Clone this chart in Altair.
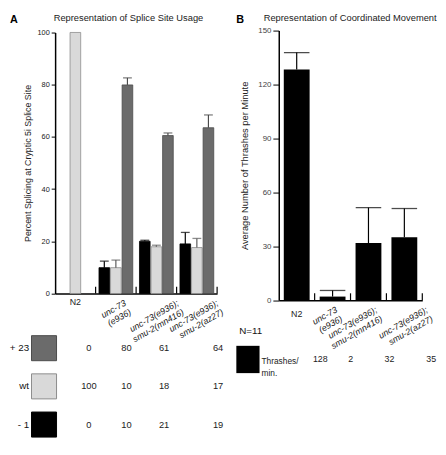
import altair as alt
import pandas as pd

F = "Liberation Sans"

# ---------------- data ----------------
groups = ["N2", "unc-73|(e936)", "unc-73(e936);|smu-2(mn416)", "unc-73(e936);|smu-2(az27)"]
series = ["- 1", "wt", "+ 23"]

minus1 = [0, 9.9, 20.0, 19.0]
minus1_err = [None, 12.4, 20.4, 23.4]
wt = [100, 9.9, 17.9, 17.6]
wt_err = [None, 12.8, 18.5, 21.1]
plus23 = [0, 79.9, 60.5, 63.5]
plus23_err = [None, 82.6, 61.5, 68.4]

table_minus1 = ["0", "10", "21", "19"]
table_wt = ["100", "10", "18", "17"]
table_plus23 = ["0", "80", "61", "64"]

thrashes = [128.3, 2.0, 31.8, 35.0]
thrashes_err = [137.8, 5.4, 51.5, 51.0]
table_thrashes = ["128", "2", "32", "35"]

title_a = "Representation of Splice Site Usage"
title_b = "Representation of Coordinated Movement"

fill_range = ["#000000", "#d9d9d9", "#6b6b6b"]
stroke_range = ["#000000", "#8c8c8c", "#4a4a4a"]
err_range = ["#000000", "#5c5c5c", "#4a4a4a"]

# ---------------- geometry (pixels inside the plot frame) ----------------
W, H = 374, 274.6          # whole frame: panel A + gap + panel B
A_X = [0, 165]             # panel A x range
A_Y = [267.8, 1.9]         # panel A y range (bottom, top)
B_X = [227.8, 374]         # panel B x range
B_Y = [274.6, 0]           # panel B y range

G2, G3 = groups[1], groups[2]


def label_offsets(o2, o3, o4):
    return {"condition": [{"test": f"datum.value == '{G2}'", "value": o2},
                          {"test": f"datum.value == '{G3}'", "value": o3}],
            "value": o4}


def x_axis(offset, offsets):
    return alt.Axis(
        orient="bottom", offset=offset,
        title=None, ticks=False, domainColor="#000", domainWidth=1.5,
        labelExpr="datum.value == 'N2' ? '' : split(datum.value, '|')",
        labelAngle=330, labelAlign="right", labelBaseline="top", labelFont=F,
        labelFontSize=9, labelFontStyle="italic", labelColor="#222",
        labelLineHeight=10.5, labelPadding=5, labelOverlap=False, labelBound=False,
        labelOffset=offsets,
    )


# ---------------- panel A ----------------
rowsA = []
for i, g in enumerate(groups):
    for s, vals, errs in zip(series, [minus1, wt, plus23], [minus1_err, wt_err, plus23_err]):
        rowsA.append({"group": g, "series": s, "value": vals[i], "upper": errs[i]})
dfA = pd.DataFrame(rowsA)
barsA_df = dfA[dfA["value"] > 0]
errA_df = dfA[dfA["upper"].notna()]

axisXA = x_axis(A_Y[0] - H, label_offsets(7.5, 20, 19))
scXA = alt.Scale(domain=groups, range=A_X, paddingInner=0, paddingOuter=0)
axisYA = alt.Axis(
    orient="left",
    title="Percent Splicing at Cryptic 5i Splice Site", values=[0, 20, 40, 60, 80, 100],
    grid=False, tickSize=4, tickColor="#000", tickWidth=1, domainColor="#000", domainWidth=1.5,
    labelFont=F, labelFontSize=7.5, labelColor="#222", labelPadding=2,
    titleFont=F, titleFontSize=9, titleFontWeight="normal", titleColor="#222", titlePadding=5,
)
scYA = alt.Scale(domain=[0, 100], range=A_Y, nice=False)
scOffA = alt.Scale(domain=series, paddingInner=0.08, paddingOuter=0.29)


def xA():
    return alt.X("group:N", sort=groups, scale=scXA, axis=axisXA)


def offA():
    return alt.XOffset("series:N", sort=series, scale=scOffA)


fill_enc = alt.Fill("series:N", scale=alt.Scale(domain=series, range=fill_range), legend=None)
stroke_enc = alt.Stroke("series:N", scale=alt.Scale(domain=series, range=stroke_range), legend=None)
err_enc = alt.Color("series:N", scale=alt.Scale(domain=series, range=err_range), legend=None)

barsA = alt.Chart(barsA_df).mark_bar(strokeWidth=0.8).encode(
    x=xA(), xOffset=offA(),
    y=alt.Y("value:Q", scale=scYA, axis=axisYA, stack=None),
    fill=fill_enc, stroke=stroke_enc,
)
errA = alt.Chart(errA_df).mark_rule(strokeWidth=1.2).encode(
    x=xA(), xOffset=offA(),
    y=alt.Y("value:Q", scale=scYA, axis=axisYA), y2="upper:Q", color=err_enc,
)
capA = alt.Chart(errA_df).mark_tick(size=9, thickness=1.3).encode(
    x=xA(), xOffset=offA(),
    y=alt.Y("upper:Q", scale=scYA, axis=axisYA), color=err_enc,
)
ticksA = alt.Chart(pd.DataFrame({"group": groups})).mark_rule(color="#000", strokeWidth=1.2).encode(
    x=alt.X("group:N", sort=groups, scale=scXA, axis=axisXA, bandPosition=1),
    y=alt.value(A_Y[0]), y2=alt.value(A_Y[0] - 7),
)
n2A = alt.Chart(pd.DataFrame({"group": ["N2"]})).mark_text(
    font=F, fontSize=9, color="#222", baseline="middle"
).encode(x=xA(), y=alt.value(A_Y[0] + 8.7), text="group:N")

mainA = alt.layer(barsA, errA, capA, ticksA, n2A)

tabA_rows = []
for s, vals in zip(series, [table_minus1, table_wt, table_plus23]):
    tabA_rows.append({"series": s, "col": -2, "text": s})
    tabA_rows.append({"series": s, "col": -1, "text": ""})
    for j, v in enumerate(vals):
        tabA_rows.append({"series": s, "col": j, "text": v})
tabA = pd.DataFrame(tabA_rows)

xTA = alt.X("col:Q", scale=alt.Scale(domain=[-2, -1, 0, 1, 2, 3],
                                     range=[-26.5, -11.3, 34.4, 72.7, 111.0, 166.0],
                                     zero=False, nice=False), axis=None)
yTA = alt.Y("series:N", scale=alt.Scale(type="point", domain=["+ 23", "wt", "- 1"],
                                        range=[323.5, 401.3], padding=0), axis=None)

valsA = alt.Chart(tabA).transform_filter("datum.col >= 0").mark_text(
    font=F, fontSize=9.5, color="#222", align="center", baseline="middle"
).encode(x=xTA, y=yTA, text="text:N")
labsA = alt.Chart(tabA).transform_filter("datum.col == -2").mark_text(
    font=F, fontSize=10, color="#111", align="right", baseline="middle"
).encode(x=xTA, y=yTA, text="text:N")
sqA = alt.Chart(tabA).transform_filter("datum.col == -1").mark_square(
    size=650, strokeWidth=1, opacity=1
).encode(x=xTA, y=yTA, fill=fill_enc, stroke=stroke_enc)
letterA = alt.Chart(pd.DataFrame({"t": ["A"]})).mark_text(
    font=F, fontSize=11, fontWeight="bold", align="left", baseline="alphabetic", color="#000"
).encode(x=alt.value(-46), y=alt.value(-8), text="t:N")
titleA = alt.Chart(pd.DataFrame({"t": [title_a]})).mark_text(
    font=F, fontSize=9.5, align="center", baseline="alphabetic", color="#222"
).encode(x=alt.value(74.7), y=alt.value(-10), text="t:N")

tableA = alt.layer(valsA, labsA, sqA, letterA, titleA)

# ---------------- panel B ----------------
dfB = pd.DataFrame({"group": groups, "value": thrashes, "upper": thrashes_err})

scXB = alt.Scale(domain=groups, range=B_X, paddingInner=0, paddingOuter=0)
axisXB = x_axis(0, label_offsets(2, 6, 21))
axisYB = alt.Axis(
    orient="left", offset=-B_X[0],
    title="Average Number of Thrashes per Minute", values=[0, 30, 60, 90, 120, 150],
    grid=False, tickSize=6, tickColor="#000", tickWidth=1, domainColor="#000", domainWidth=1.5,
    labelFont=F, labelFontSize=8, labelColor="#444", labelPadding=2,
    titleFont=F, titleFontSize=9.5, titleFontWeight="normal", titleColor="#222", titlePadding=8,
)
scYB = alt.Scale(domain=[0, 150], range=B_Y, nice=False)


def xB():
    return alt.X("group:N", sort=groups, scale=scXB, axis=axisXB)


barsB = alt.Chart(dfB).mark_bar(width=alt.RelativeBandSize(0.72), color="#000").encode(
    x=xB(), y=alt.Y("value:Q", scale=scYB, axis=axisYB),
)
errB = alt.Chart(dfB).mark_rule(color="#000", strokeWidth=1.2).encode(
    x=xB(), y=alt.Y("value:Q", scale=scYB, axis=axisYB), y2="upper:Q",
)
capB = alt.Chart(dfB).mark_tick(size=26, thickness=1.3, color="#000").encode(
    x=xB(), y=alt.Y("upper:Q", scale=scYB, axis=axisYB),
)
ticksB = alt.Chart(pd.DataFrame({"group": groups})).mark_rule(color="#000", strokeWidth=1.2).encode(
    x=alt.X("group:N", sort=groups, scale=scXB, axis=axisXB, bandPosition=1),
    y=alt.value(B_Y[0]), y2=alt.value(B_Y[0] - 7),
)
n2B = alt.Chart(pd.DataFrame({"group": ["N2"]})).mark_text(
    font=F, fontSize=9, color="#222", baseline="middle"
).encode(x=xB(), y=alt.value(B_Y[0] + 14), text="group:N")

mainB = alt.layer(barsB, errB, capB, ticksB, n2B)

tabB_rows = [{"row": "n", "col": -3, "text": "N=11"},
             {"row": "t", "col": -2, "text": ""},
             {"row": "t", "col": -1, "text": "Thrashes/|min."}]
for j, v in enumerate(table_thrashes):
    tabB_rows.append({"row": "t", "col": j, "text": v})
tabB = pd.DataFrame(tabB_rows)

xTB = alt.X("col:Q", scale=alt.Scale(domain=[-3, -2, -1, 0, 1, 2, 3],
                                     range=[187.6, 196.4, 210.2, 270.1, 301.2, 340.5, 383.0],
                                     zero=False, nice=False), axis=None)
yTB = alt.Y("row:N", scale=alt.Scale(type="point", domain=["n", "t"], range=[306.2, 335.0], padding=0),
            axis=None)

nB = alt.Chart(tabB).transform_filter("datum.col == -3").mark_text(
    font=F, fontSize=10, color="#111", align="left", baseline="middle"
).encode(x=xTB, y=yTB, text="text:N")
sqB = alt.Chart(tabB).transform_filter("datum.col == -2").mark_point(
    shape="M-0.85,-1L0.85,-1L0.85,1L-0.85,1Z", size=773, filled=True, opacity=1, color="#000", dy=-5.2
).encode(x=xTB, y=yTB)
thrB = alt.Chart(tabB).transform_filter("datum.col == -1").mark_text(
    font=F, fontSize=8.5, color="#222", align="left", baseline="middle", lineBreak="|",
    lineHeight=12.5, dy=1.5
).encode(x=xTB, y=yTB, text="text:N")
valsB = alt.Chart(tabB).transform_filter("datum.col >= 0").mark_text(
    font=F, fontSize=9, color="#222", align="center", baseline="middle"
).encode(x=xTB, y=yTB, text="text:N")
letterB = alt.Chart(pd.DataFrame({"t": ["B"]})).mark_text(
    font=F, fontSize=11, fontWeight="bold", align="left", baseline="alphabetic", color="#000"
).encode(x=alt.value(184.6), y=alt.value(-8), text="t:N")
titleB = alt.Chart(pd.DataFrame({"t": [title_b]})).mark_text(
    font=F, fontSize=9.5, align="center", baseline="alphabetic", color="#222"
).encode(x=alt.value(300.5), y=alt.value(-10), text="t:N")

tableB = alt.layer(nB, sqB, thrB, valsB, letterB, titleB)

chart = alt.layer(mainA, tableA, mainB, tableB).resolve_scale(
    x="independent", y="independent"
).properties(
    width=W, height=H,
    autosize=alt.AutoSizeParams(type="none"),
    padding={"left": 48, "top": 19, "right": 16, "bottom": 138},
).configure_view(stroke=None)

chart.save("out.html", embed_options={"renderer": "svg", "actions": False})
